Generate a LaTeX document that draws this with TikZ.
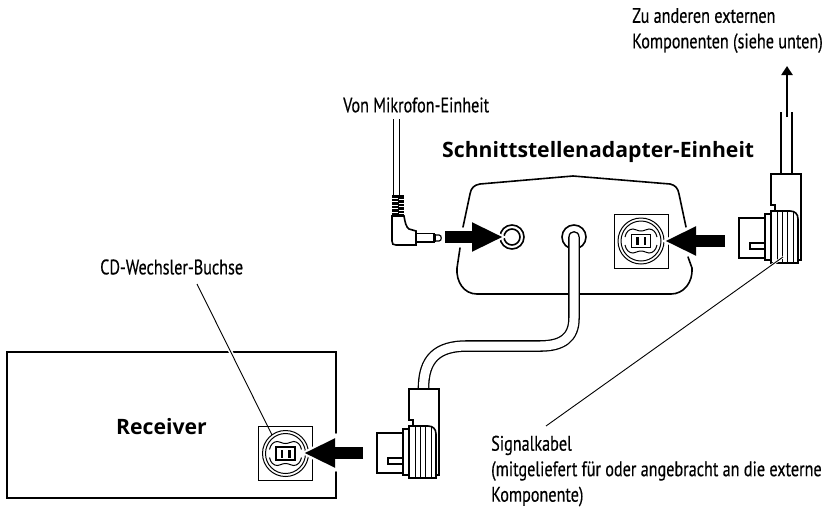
\documentclass[tikz,border=0pt]{standalone}
\usepackage{fontspec}
\setmainfont[FakeStretch=0.77,FakeBold=0.4]{PT Sans}
\newfontfamily\headfont{Open Sans}
\usetikzlibrary{arrows.meta,calc}
\begin{document}
\begin{tikzpicture}[
    x=1pt, y=-1pt,
    note/.style={anchor=west, inner sep=0pt, font=\fontsize{21}{25.5}\selectfont, align=left},
    title/.style={anchor=west, inner sep=0pt, font=\headfont\bfseries\fontsize{21.2}{25}\selectfont},
    hull/.style={draw=black, line width=1.6pt, line cap=round},
    fine/.style={draw=black, line width=1pt},
    lead/.style={draw=black, line width=0.9pt},
    wire/.style={draw=black, line width=1.3pt, double=white},
    push/.style={
        -{Triangle[length=31pt,width=27pt]}, line width=12pt, black,
        preaction={draw=white, line width=14pt, shorten >=-4pt, -{Triangle[length=33pt,width=32pt]}}
    },
    lift/.style={-{Triangle[length=9pt,width=11pt]}, line width=2.6pt, black}
]
\useasboundingbox (0,0) rectangle (826,509);

% --- Labels ---
\node[note] (upnote) at (632,30.5) {Zu anderen externen\\Komponenten (siehe unten)};
\node[note] (micnote) at (343,105) {Von Mikrofon-Einheit};
\node[title] (adapter) at (442,152) {Schnittstellenadapter-Einheit};
\node[note] (cdnote) at (100,267) {CD-Wechsler-Buchse};
\node[title] (receiver) at (116,427) {Receiver};
\node[note] (signote) at (491,471) {Signalkabel\\(mitgeliefert f\"ur oder angebracht an die externe\\Komponente)};

% --- Receiver box ---
\draw[hull] (336,433) -- (336,352) -- (7,352) -- (7,498) -- (336,498) -- (336,472);

% --- Adapter body ---
\draw[hull] (460,248) -- (457,268) .. controls (456,282) and (464,294) .. (477,294)
    -- (671,294) .. controls (684,294) and (693,282) .. (692,268) -- (688,257);
\draw[hull] (686,227) -- (679,194) .. controls (678,188) and (675,185) .. (670,184)
    -- (573,176) -- (480,184) .. controls (474,185) and (471,188) .. (470,194) -- (463,227);

% --- Sockets ---
\foreach \sx/\sy in {641/241, 285.5/453.5} {
    \begin{scope}[shift={(\sx,\sy)}]
        \draw[fine] (-27,-27) rectangle (27,27);
        \draw[fine, fill=white] (0,0) circle (23);
        \draw[fine] (0,0) circle (20);
        \draw[fine] (-16,-4) .. controls (-15,-9) and (-12,-12) .. (-8,-12)
            .. controls (-5,-12) and (-4,-10) .. (0,-10) .. controls (4,-10) and (5,-12) .. (8,-12)
            .. controls (12,-12) and (15,-9) .. (16,-4);
        \draw[fine] (-16,4) .. controls (-15,9) and (-12,12) .. (-8,12)
            .. controls (-5,12) and (-4,10) .. (0,10) .. controls (4,10) and (5,12) .. (8,12)
            .. controls (12,12) and (15,9) .. (16,4);
        \draw[hull, line width=1.2pt] (-9.5,-6.5) rectangle (9.5,6.5);
        \fill (-5,-4) rectangle (-2.5,4);
        \fill (2.5,-4) rectangle (5,4);
    \end{scope}
}
\draw[hull] (512,237) circle (12);
\draw[hull] (512,237) circle (8);
\draw[hull] (574,237) circle (12);

% --- Cables ---
\draw[hull, line width=1.3pt] (569,237) .. controls (569,230) and (579,230) .. (579,237);
\draw[wire, double distance=9pt] (574,237) -- (574,318) .. controls (574,338) and (562,346) .. (540,346)
    -- (467,346) .. controls (438,346) and (423,358) .. (423.5,390);
\draw[wire, double distance=9.5pt] (786.5,112) -- (786.5,175);
\draw[wire, line width=1pt, double distance=5.5pt] (396.5,119) -- (396.5,196);

% --- Signal connectors ---
\foreach \ox/\oy in {0/0, 362/-215} {
    \begin{scope}[shift={(\ox,\oy)}]
        \draw[hull, fill=white] (409,389) -- (439,389) -- (439,475) -- (420,475) -- (413,425) -- (413,420) -- (409,420) -- cycle;
        \draw[hull, fill=white] (377,433) rectangle (403,473);
        \draw[hull, fill=white] (403,458) -- (388,458) -- (388,464) -- (403,464);
        \draw[hull, fill=white] (403,429) rectangle (409,475);
        \draw[hull, fill=white] (409,426) -- (428,426) .. controls (433,426) and (436,429) .. (436,434)
            -- (436,478) -- (409,478) -- cycle;
        \foreach \rib in {415,420,425,431} {
            \draw[fine] (\rib,427) -- (\rib,477);
        }
    \end{scope}
}

% --- Microphone plug ---
\draw[hull, fill=white] (392,216) -- (392,241) .. controls (392,244) and (393,245) .. (396,245)
    -- (416,245) -- (416,231) -- (409,229) .. controls (406,227) and (405,222) .. (404,216) -- cycle;
\fill (392,195) rectangle (404,216);
\foreach \ry in {198,201.5,...,215} {
    \draw[white, line width=0.8pt] (392,\ry) -- (398,\ry) (399,\ry+1.5) -- (404,\ry+1.5);
}
\draw[hull, line width=1.2pt, fill=white] (416,233.5) rectangle (434,242);
\draw[hull, line width=1.2pt, fill=white] (434,235) -- (439,235) .. controls (442,235) and (442,241) .. (439,241) -- (434,241);
\fill (434,234) rectangle (436,242);

% --- Leaders ---
\coordinate (cdtop) at (197,284);
\coordinate (cdend) at (272,435);
\coordinate (sigtop) at (783,257);
\coordinate (sigend) at (546,426);
\draw[white, line width=4pt] ($(cdtop)!0.4!(cdend)$) -- ($(cdtop)!0.6!(cdend)$);
\draw[lead] (cdtop) -- (cdend);
\draw[white, line width=2.6pt] (sigtop) -- ($(sigtop)!0.12!(sigend)$);
\draw[lead] (sigtop) -- (sigend);

% --- Push arrows ---
\coordinate (micfrom) at (445,237);
\coordinate (micto) at (503,237);
\coordinate (leftfrom) at (725,241);
\coordinate (leftto) at (665,241);
\coordinate (recfrom) at (363,453);
\coordinate (recto) at (304,453);
\coordinate (liftfrom) at (787,117);
\coordinate (liftto) at (787,66);
\draw[push] (micfrom) -- (micto);
\draw[push] (leftfrom) -- (leftto);
\draw[push] (recfrom) -- (recto);
\draw[lift] (liftfrom) -- (liftto);

\end{tikzpicture}
\end{document}
